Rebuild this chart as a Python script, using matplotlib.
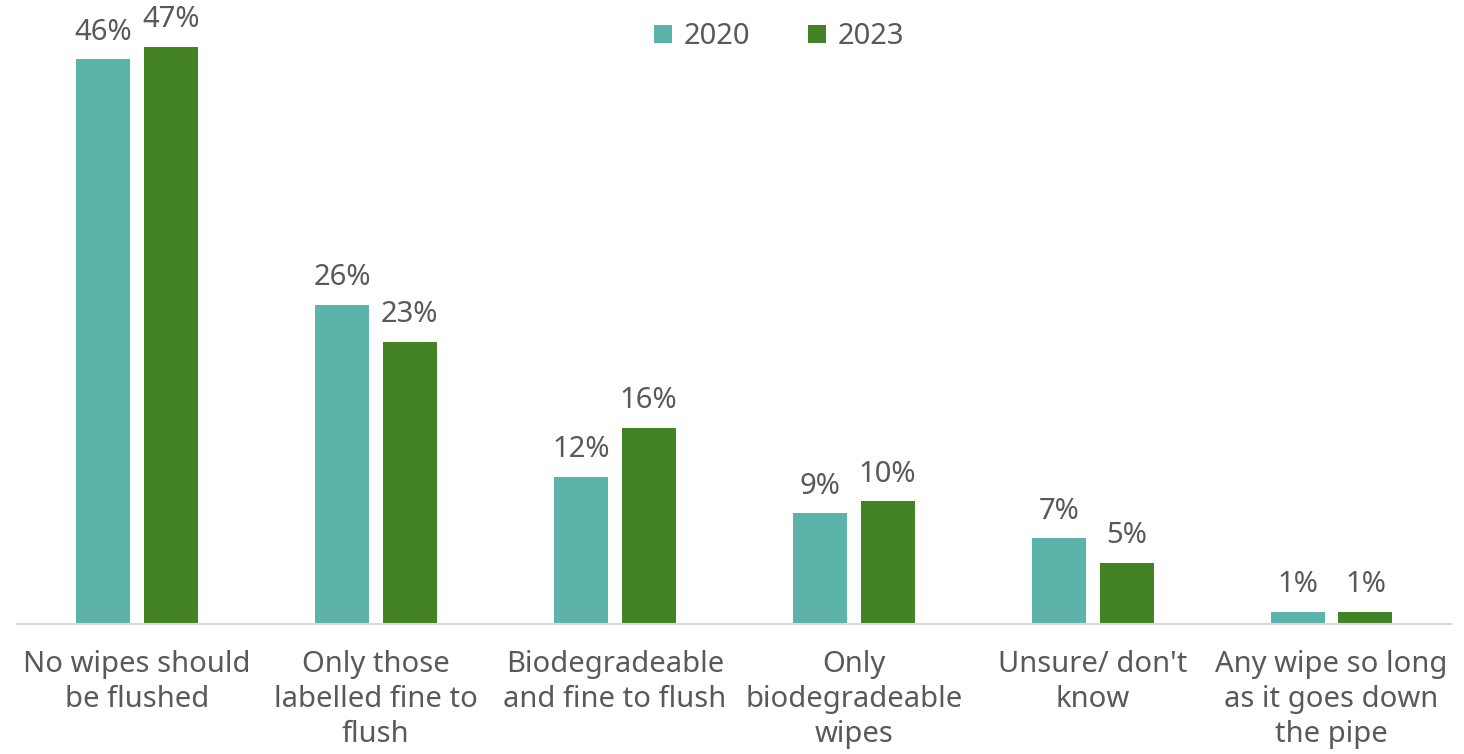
import matplotlib.pyplot as plt
import numpy as np

categories = [
    "No wipes should\nbe flushed",
    "Only those\nlabelled fine to\nflush",
    "Biodegradeable\nand fine to flush",
    "Only\nbiodegradeable\nwipes",
    "Unsure/ don't\nknow",
    "Any wipe so long\nas it goes down\nthe pipe",
]
series_names = ["2020", "2023"]
values_2020 = [46, 26, 12, 9, 7, 1]
values_2023 = [47, 23, 16, 10, 5, 1]

colors = ["#5BB3AA", "#448325"]
text_color = "#595959"
plt.rcParams['font.family'] = ['Noto Sans', 'DejaVu Sans']

fig = plt.figure(figsize=(14.64, 7.54), dpi=100)
ax = fig.add_axes([17.5 / 1464, 130 / 754, (1451 - 17.5) / 1464, 614 / 754])

x = np.arange(len(categories))
width = 0.226
offset = 0.142
for vals, name, col, off in zip([values_2020, values_2023], series_names, colors, [-offset, offset]):
    bars = ax.bar(x + off, vals, width, color=col, label=name)
    for b, v in zip(bars, vals):
        ax.annotate(f"{v}%", (b.get_x() + b.get_width() / 2, v),
                    xytext=(0, 9), textcoords="offset points",
                    ha="center", va="bottom", fontsize=21, color=text_color)

ax.set_xlim(-0.5, len(categories) - 0.5)
ax.set_ylim(0, 50)
ax.set_yticks([])
ax.set_xticks(x)
ax.set_xticklabels(categories, fontsize=21, color=text_color, linespacing=1.26)
ax.tick_params(axis="x", length=0, pad=19)
for s in ["top", "right", "left"]:
    ax.spines[s].set_visible(False)
ax.spines["bottom"].set_color("#D9D9D9")
ax.spines["bottom"].set_linewidth(1.5)

leg = ax.legend(loc="center", bbox_to_anchor=(779 / 1464, 1 - 37 / 754),
                bbox_transform=fig.transFigure, ncol=2, frameon=False, fontsize=21,
                handlelength=0.6, handleheight=0.6, handletextpad=0.4, columnspacing=2.0)
for t in leg.get_texts():
    t.set_color(text_color)

fig.savefig("out.png", dpi=100)
